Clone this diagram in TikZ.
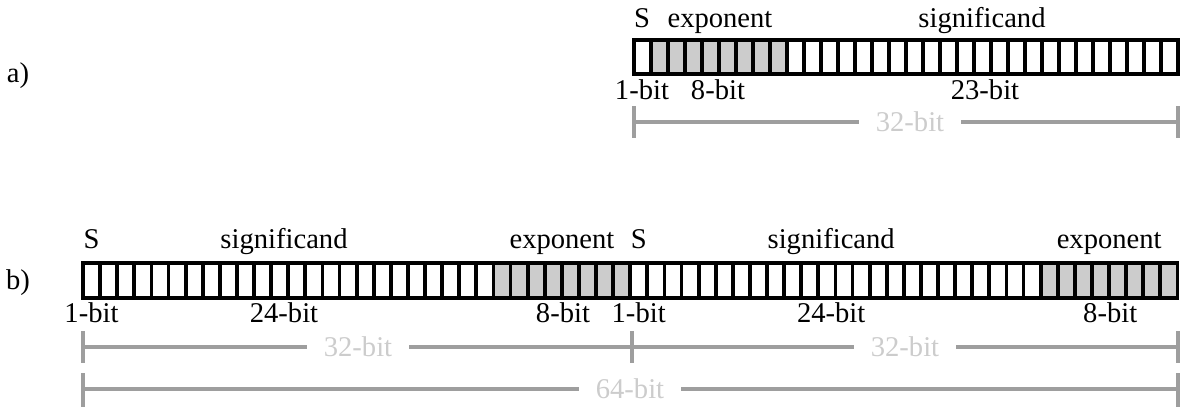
\documentclass[tikz,border=0pt]{standalone}
\usepackage{fontspec}
\setmainfont{Liberation Serif}

\tikzset{
    bitcell/.style={
        draw=black,
        line width=1.9pt,
        fill=white},
    expbit/.style={
        fill=black!20},
    field/.style={
        anchor=base,
        inner sep=0pt},
    span/.style={
        draw=black!38,
        line width=1.6pt},
    spanlabel/.style={
        text=black!20,
        inner sep=0pt,
        outer sep=8.5pt}
}

\begin{document}
\begin{tikzpicture}[x=0.5pt, y=-0.5pt, font=\fontsize{14.3}{17}\selectfont]
\useasboundingbox (0,0) rectangle (1185,407);

% a) single precision
\node[field] (tag-a) at (18,83) {a)};
\foreach \i in {0,...,31}
    \draw[bitcell] (634+\i*17,40) rectangle ++(17,34);
\foreach \i in {1,...,8}
    \draw[bitcell, expbit] (634+\i*17,40) rectangle ++(17,34);

\node[field] (a-s)   at (642,27) {S};
\node[field] (a-exp) at (720,27) {exponent};
\node[field] (a-sig) at (982,27) {significand};
\node[field] (a-1)   at (642,99) {1-bit};
\node[field] (a-8)   at (718,99) {8-bit};
\node[field] (a-23)  at (985,99) {23-bit};

\coordinate (a-l) at (634,122);
\coordinate (a-r) at (1178,122);
\node[spanlabel] (a-w) at (910,122) {32-bit};
\draw[span] (a-l) -- (a-w.west);
\draw[span] (a-w.east) -- (a-r);
\draw[span] (a-l) ++(0,-16) -- ++(0,32);
\draw[span] (a-r) ++(0,-16) -- ++(0,32);

% b) two words side by side
\node[field] (tag-b) at (18,289) {b)};
\foreach \i in {0,...,63}
    \draw[bitcell] (83+\i*17.1,263) rectangle ++(17.1,35);
\foreach \i in {24,...,31,56,57,...,63}
    \draw[bitcell, expbit] (83+\i*17.1,263) rectangle ++(17.1,35);
\draw[bitcell, fill=none] (83,263) rectangle (1177.4,298);

\foreach \w/\x in {lo/0, hi/547.2}{
    \node[field] (b-\w-s)   at (91.5+\x,248) {S};
    \node[field] (b-\w-sig) at (284+\x,248) {significand};
    \node[field] (b-\w-exp) at (562+\x,248) {exponent};
    \node[field] (b-\w-1)   at (91.5+\x,322) {1-bit};
    \node[field] (b-\w-24)  at (284+\x,322) {24-bit};
    \node[field] (b-\w-8)   at (563+\x,322) {8-bit};
}

\coordinate (b-l) at (83,347);
\coordinate (b-m) at (632,347);
\coordinate (b-r) at (1178,347);
\node[spanlabel] (b-lo-w) at (358,347) {32-bit};
\node[spanlabel] (b-hi-w) at (905,347) {32-bit};
\draw[span] (b-l) -- (b-lo-w.west);
\draw[span] (b-lo-w.east) -- (b-m) -- (b-hi-w.west);
\draw[span] (b-hi-w.east) -- (b-r);
\foreach \c in {b-l, b-m, b-r}
    \draw[span] (\c) ++(0,-16) -- ++(0,32);

\coordinate (c-l) at (83,389);
\coordinate (c-r) at (1178,389);
\node[spanlabel] (c-w) at (630,389) {64-bit};
\draw[span] (c-l) -- (c-w.west);
\draw[span] (c-w.east) -- (c-r);
\draw[span] (c-l) ++(0,-16) -- ++(0,34);
\draw[span] (c-r) ++(0,-16) -- ++(0,34);

\end{tikzpicture}
\end{document}
